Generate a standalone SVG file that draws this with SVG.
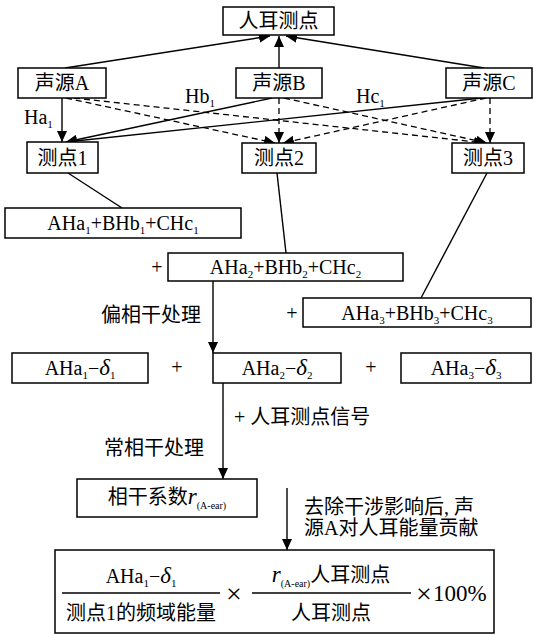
<svg xmlns="http://www.w3.org/2000/svg" width="534" height="635" viewBox="0 0 534 635">
<style>
.box{fill:#fff;stroke:#000;stroke-width:1.5}
.ln{stroke:#000;stroke-width:1.4;fill:none}
.ar{stroke:#000;stroke-width:1.4;fill:none;marker-end:url(#ah)}
.da{stroke:#000;stroke-width:1.3;fill:none;stroke-dasharray:6 4;marker-end:url(#ah)}
text{font-family:"Liberation Serif","Noto Sans CJK SC",serif;font-size:20px;fill:#000}
.c{text-anchor:middle}
.s{font-size:11px}
.t{font-size:10px}
.i{font-style:italic}
.big{font-size:23px}
.x{font-size:28px}
</style>
<defs>
<marker id="ah" markerWidth="12" markerHeight="10" refX="11" refY="5" orient="auto" markerUnits="userSpaceOnUse">
<path d="M0,0 L11,5 L0,10 Z" fill="#000"/>
</marker>
</defs>
<g id="connectors">
<line class="ar" x1="65" y1="68" x2="270" y2="36"/>
<line class="ar" x1="279" y1="68" x2="279" y2="36"/>
<line class="ar" x1="484" y1="68" x2="286" y2="36"/>
<line class="ar" x1="62" y1="98" x2="62" y2="142"/>
<line class="ar" x1="272" y1="98" x2="66" y2="142"/>
<line class="ar" x1="482" y1="98" x2="66" y2="142"/>
<line class="da" x1="66" y1="98" x2="275" y2="143"/>
<line class="da" x1="74" y1="98" x2="485" y2="143"/>
<line class="da" x1="279" y1="98" x2="279" y2="143"/>
<line class="da" x1="284" y1="98" x2="487" y2="143"/>
<line class="da" x1="486" y1="98" x2="283" y2="143"/>
<line class="da" x1="490" y1="98" x2="490" y2="143"/>
<line class="ln" x1="68" y1="173" x2="122" y2="208"/>
<line class="ln" x1="277" y1="173" x2="286" y2="253"/>
<line class="ln" x1="487" y1="173" x2="421" y2="298"/>
<line class="ar" x1="213" y1="281" x2="213" y2="353"/>
<line class="ar" x1="223" y1="383" x2="223" y2="479"/>
<line class="ar" x1="287" y1="488" x2="287" y2="550"/>
</g>
<g id="labels">
<text x="24" y="124">Ha<tspan class="s" dy="4">1</tspan></text>
<text x="185" y="103">Hb<tspan class="s" dy="4">1</tspan></text>
<text x="356" y="103">Hc<tspan class="s" dy="4">1</tspan></text>
<text x="157" y="274" class="c">+</text>
<text x="292" y="320" class="c">+</text>
<text x="151" y="322" class="c">偏相干处理</text>
<text x="177" y="374" class="c">+</text>
<text x="371" y="374" class="c">+</text>
<text x="234" y="424">+ 人耳测点信号</text>
<text x="154" y="455" class="c">常相干处理</text>
<text x="304" y="514">去除干涉影响后, 声</text>
<text x="304" y="535">源A对人耳能量贡献</text>
</g>
<g id="ear"><rect class="box" x="223" y="7" width="111" height="28"/><text x="278.5" y="28" class="c">人耳测点</text></g>
<g id="srcA"><rect class="box" x="18" y="68" width="88" height="30"/><text x="62" y="90" class="c">声源A</text></g>
<g id="srcB"><rect class="box" x="236" y="68" width="86" height="30"/><text x="279" y="90" class="c">声源B</text></g>
<g id="srcC"><rect class="box" x="446" y="68" width="86" height="30"/><text x="489" y="90" class="c">声源C</text></g>
<g id="p1"><rect class="box" x="27" y="142" width="71" height="31"/><text x="62.5" y="165" class="c">测点1</text></g>
<g id="p2"><rect class="box" x="242" y="143" width="74" height="30"/><text x="279" y="165" class="c">测点2</text></g>
<g id="p3"><rect class="box" x="452" y="143" width="72" height="30"/><text x="488" y="165" class="c">测点3</text></g>
<g id="sum1"><rect class="box" x="5" y="208" width="236" height="30"/><text x="123" y="230" class="c">AHa<tspan class="s" dy="4">1</tspan><tspan dy="-4">+BHb</tspan><tspan class="s" dy="4">1</tspan><tspan dy="-4">+CHc</tspan><tspan class="s" dy="4">1</tspan></text></g>
<g id="sum2"><rect class="box" x="168" y="253" width="235" height="28"/><text x="285.5" y="274" class="c">AHa<tspan class="s" dy="4">2</tspan><tspan dy="-4">+BHb</tspan><tspan class="s" dy="4">2</tspan><tspan dy="-4">+CHc</tspan><tspan class="s" dy="4">2</tspan></text></g>
<g id="sum3"><rect class="box" x="303" y="298" width="228" height="29"/><text x="417" y="320" class="c">AHa<tspan class="s" dy="4">3</tspan><tspan dy="-4">+BHb</tspan><tspan class="s" dy="4">3</tspan><tspan dy="-4">+CHc</tspan><tspan class="s" dy="4">3</tspan></text></g>
<g id="d1"><rect class="box" x="12" y="353" width="136" height="30"/><text x="80" y="375" class="c">AHa<tspan class="s" dy="4">1</tspan><tspan dy="-4">−</tspan><tspan class="i big">δ</tspan><tspan class="s" dy="4">1</tspan></text></g>
<g id="d2"><rect class="box" x="213" y="353" width="128" height="30"/><text x="277" y="375" class="c">AHa<tspan class="s" dy="4">2</tspan><tspan dy="-4">−</tspan><tspan class="i big">δ</tspan><tspan class="s" dy="4">2</tspan></text></g>
<g id="d3"><rect class="box" x="401" y="353" width="130" height="30"/><text x="466" y="375" class="c">AHa<tspan class="s" dy="4">3</tspan><tspan dy="-4">−</tspan><tspan class="i big">δ</tspan><tspan class="s" dy="4">3</tspan></text></g>
<g id="coh"><rect class="box" x="77" y="479" width="180" height="38"/><text x="167" y="504" class="c">相干系数<tspan class="i big">r</tspan><tspan class="t" dy="5">(A-ear)</tspan></text></g>
<g id="result">
<rect class="box" x="55" y="550" width="439" height="83"/>
<text x="141" y="583" class="c">AHa<tspan class="s" dy="4">1</tspan><tspan dy="-4">−</tspan><tspan class="i big">δ</tspan><tspan class="s" dy="4">1</tspan></text>
<line class="ln" x1="62" y1="593" x2="220" y2="593"/>
<text x="141" y="620" class="c">测点1的频域能量</text>
<text x="234" y="603" class="c x">×</text>
<text x="331" y="582" class="c"><tspan class="i big">r</tspan><tspan class="t" dy="5">(A-ear)</tspan><tspan dy="-5">人耳测点</tspan></text>
<line class="ln" x1="252" y1="593" x2="411" y2="593"/>
<text x="331" y="620" class="c">人耳测点</text>
<text x="416" y="603" class="x">×</text><text x="433" y="601" class="big">100%</text>
</g>
</svg>
